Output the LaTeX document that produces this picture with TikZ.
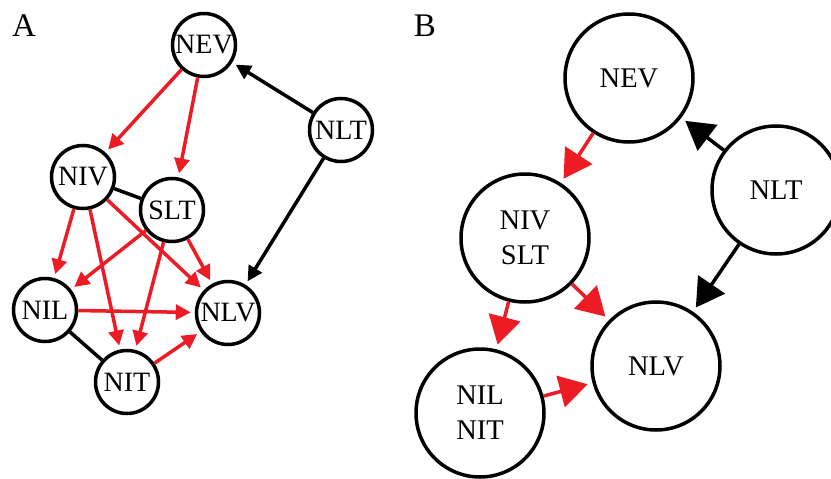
\documentclass[tikz,border=0pt]{standalone}
\usepackage{fontspec}
\setmainfont{Liberation Serif}
\usetikzlibrary{arrows.meta}
\definecolor{edgered}{HTML}{ED1C24}
\begin{document}
\begin{tikzpicture}[x=1pt,y=-1pt,
  smallnode/.style={circle,draw,line width=3.5pt,minimum size=63pt,inner sep=0pt,font=\fontsize{28}{30}\selectfont},
  bignode/.style={circle,draw,line width=3.5pt,minimum size=128pt,inner sep=0pt,align=center,font=\fontsize{28.5}{35}\selectfont},
  panellabel/.style={font=\fontsize{33}{36}\selectfont,inner sep=0pt},
  aarrow/.style={line width=3.5pt,-{Triangle[length=15pt,width=15pt]},shorten >=4pt},
  barrow/.style={line width=3.5pt,-{Triangle[length=28pt,width=32pt]},shorten >=5pt},
  redline/.style={draw=edgered,fill=edgered},
  blackline/.style={draw=black,fill=black},
  undirected/.style={line width=3.5pt,draw=black}]
\useasboundingbox (0,0) rectangle (831,479);
% Panel A
\node[panellabel] (labA) at (24,26) {A};
\node[smallnode] (aNEV) at (204,45) {NEV};
\node[smallnode] (aNLT) at (341,130) {NLT};
\node[smallnode] (aNIV) at (83,177) {NIV};
\node[smallnode] (aSLT) at (172,210) {SLT};
\node[smallnode] (aNIL) at (45,310) {NIL};
\node[smallnode] (aNLV) at (228,313) {NLV};
\node[smallnode] (aNIT) at (127,382) {NIT};
\draw[aarrow,redline] (aNEV) -- (aNIV);
\draw[aarrow,redline] (aNEV) -- (aSLT);
\draw[aarrow,blackline] (aNLT) -- (aNEV);
\draw[aarrow,blackline] (aNLT) -- (aNLV);
\draw[undirected] (aNIV) -- (aSLT);
\draw[aarrow,redline] (aNIV) -- (aNIL);
\draw[aarrow,redline] (aNIV) -- (aNIT);
\draw[aarrow,redline] (aNIV) -- (aNLV);
\draw[aarrow,redline] (aSLT) -- (aNIL);
\draw[aarrow,redline] (aSLT) -- (aNIT);
\draw[aarrow,redline] (aSLT) -- (aNLV);
\draw[aarrow,redline] (aNIL) -- (aNLV);
\draw[undirected] (aNIL) -- (aNIT);
\draw[aarrow,redline] (aNIT) -- (aNLV);
% Panel B
\node[panellabel] (labB) at (425,26) {B};
\node[bignode] (bNEV) at (629,78) {NEV};
\node[bignode] (bNLT) at (776,190) {NLT};
\node[bignode] (bNIV) at (525,238) {NIV\\SLT};
\node[bignode] (bNLV) at (656,366) {NLV};
\node[bignode] (bNIL) at (480,413) {NIL\\NIT};
\draw[barrow,redline] (bNEV) -- (bNIV);
\draw[barrow,blackline] (bNLT) -- (bNEV);
\draw[barrow,blackline] (bNLT) -- (bNLV);
\draw[barrow,redline] (bNIV) -- (bNIL);
\draw[barrow,redline] (bNIV) -- (bNLV);
\draw[barrow,redline] (bNIL) -- (bNLV);
\end{tikzpicture}
\end{document}
